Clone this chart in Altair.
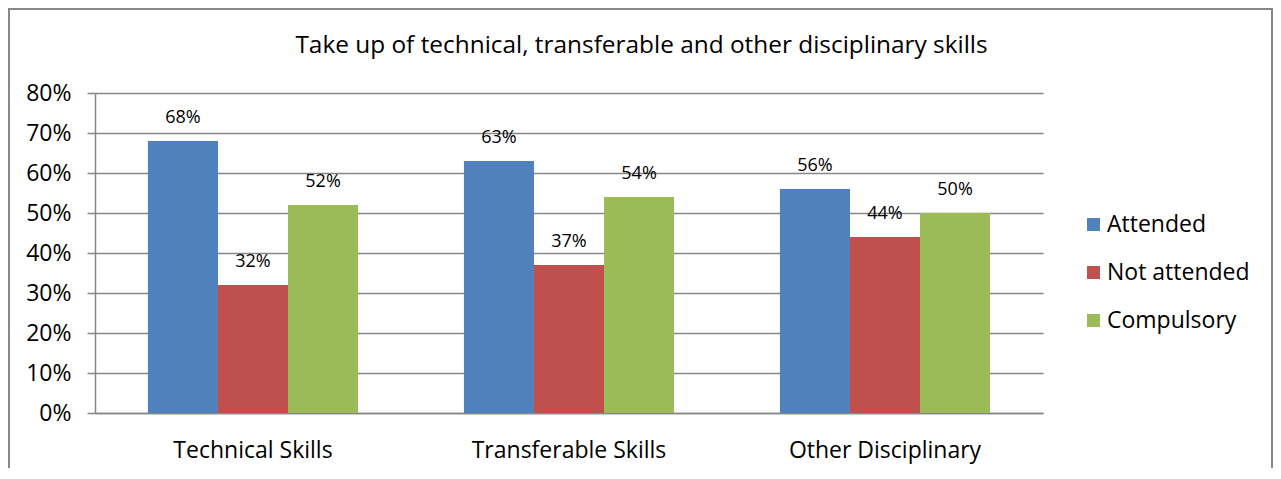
import altair as alt
import pandas as pd

categories = ["Technical Skills", "Transferable Skills", "Other Disciplinary"]
series = ["Attended", "Not attended", "Compulsory"]
attended = [0.68, 0.63, 0.56]
not_attended = [0.32, 0.37, 0.44]
compulsory = [0.52, 0.54, 0.50]
colors = ["#4F81BD", "#C0504D", "#9BBB59"]
y_ticks = [0, 0.1, 0.2, 0.3, 0.4, 0.5, 0.6, 0.7, 0.8]
title_text = "Take up of technical, transferable and other disciplinary skills"

rows = []
for i, c in enumerate(categories):
    for s, vals in zip(series, [attended, not_attended, compulsory]):
        rows.append({"category": c, "series": s, "value": vals[i]})
df = pd.DataFrame(rows)

FONT = "Open Sans"
GRAY = "#878787"

base = alt.Chart(df).encode(
    x=alt.X(
        "category:N",
        sort=categories,
        scale=alt.Scale(paddingInner=0.335, paddingOuter=0.1675),
        axis=alt.Axis(
            title=None, labelAngle=0, ticks=False, labelPadding=26,
            labelFontSize=23, labelFont=FONT, labelColor="black",
            labelLimit=500,
            domainColor=GRAY, domainWidth=1.5,
        ),
    ),
    xOffset=alt.XOffset("series:N", sort=series,
                        scale=alt.Scale(paddingInner=0, paddingOuter=0)),
    y=alt.Y(
        "value:Q",
        scale=alt.Scale(domain=[0, 0.8], nice=False),
        axis=alt.Axis(
            title=None, values=y_ticks, format=".0%", tickSize=8,
            tickColor=GRAY, tickWidth=1.5, labelPadding=16,
            labelFontSize=23, labelFont=FONT, labelColor="black",
            grid=True, gridColor=GRAY, gridWidth=1.5,
            domainColor=GRAY, domainWidth=1.5, labelOverlap=False,
        ),
    ),
)

bars = base.mark_bar().encode(
    color=alt.Color(
        "series:N", sort=series,
        scale=alt.Scale(domain=series, range=colors),
        legend=alt.Legend(
            title=None, orient="none", legendX=987, legendY=120,
            symbolType="square", symbolSize=169, symbolStrokeWidth=0,
            labelFontSize=23, labelFont=FONT, labelColor="black",
            rowPadding=24, labelOffset=2,
        ),
    ),
)

labels = base.mark_text(baseline="bottom", dy=-14, fontSize=18, font=FONT,
                        color="black").encode(
    text=alt.Text("value:Q", format=".0%"),
)

border = alt.Chart(pd.DataFrame({"a": [0]})).mark_rect(
    fill=None, stroke=GRAY, strokeWidth=2
).encode(
    x=alt.value(-86), x2=alt.value(1177), y=alt.value(-84), y2=alt.value(430)
)

chart = alt.layer(border, bars, labels).properties(
    width=948,
    height=320,
    title=alt.TitleParams(
        title_text, fontSize=24.4, font=FONT, fontWeight="normal",
        anchor="middle", frame="bounds", dx=1, offset=-50, color="black",
    ),
    autosize=alt.AutoSizeParams(type="none"),
    padding={"left": 87, "top": 85, "right": 230, "bottom": 55},
).configure_view(stroke=None)

chart.save("out.html", embed_options={"renderer": "svg", "actions": False})
